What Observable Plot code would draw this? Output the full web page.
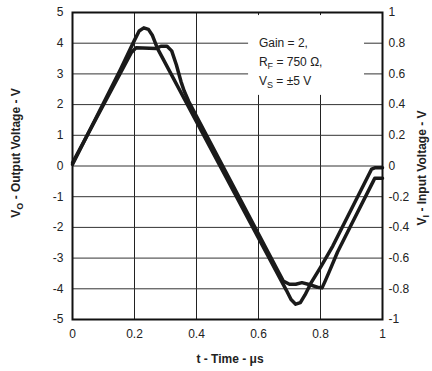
<!DOCTYPE html>
<html>
<head>
<meta charset="utf-8">
<script src="https://cdn.jsdelivr.net/npm/d3@7"></script>
<script src="https://cdn.jsdelivr.net/npm/@observablehq/plot@0.6"></script>
<style>
  html, body { margin: 0; padding: 0; background: #fff; }
  svg text { font-family: "Liberation Sans", Arial, Helvetica, sans-serif; }
</style>
</head>
<body>
<div id="chart"></div>
<script>
// ---- data ----
const xTicks = [0, 0.2, 0.4, 0.6, 0.8, 1];
const xTickLabels = ["0", "0.2", "0.4", "0.6", "0.8", "1"];
const leftTicks = [-5, -4, -3, -2, -1, 0, 1, 2, 3, 4, 5];
const leftTickLabels = ["-5", "-4", "-3", "-2", "-1", "0", "1", "2", "3", "4", "5"];
const rightTickLabels = ["-1", "-0.8", "-0.6", "-0.4", "-0.2", "0", "0.2", "0.4", "0.6", "0.8", "1"];

// Output voltage trace (V), time in µs
const outT = [0, 0.155, 0.2, 0.215, 0.23, 0.245, 0.258, 0.274, 0.476, 0.69, 0.705, 0.72, 0.735, 0.75, 0.77, 0.8, 0.84, 0.965, 0.975, 1.0];
const outV = [0.05, 3.15, 4.1, 4.4, 4.5, 4.45, 4.25, 3.83, 0, -4.05, -4.35, -4.5, -4.45, -4.2, -3.8, -3.3, -2.6, -0.1, -0.06, -0.06];

// Input voltage trace, plotted on the output scale (right axis = left / 5)
const inT = [0, 0.19, 0.205, 0.27, 0.285, 0.305, 0.32, 0.335, 0.35, 0.36, 0.375, 0.68, 0.70, 0.72, 0.74, 0.76, 0.79, 0.805, 0.815, 0.83, 0.855, 0.90, 0.97, 0.975, 1.0];
const inV = [0.1, 3.7, 3.85, 3.83, 3.9, 3.9, 3.75, 3.3, 2.75, 2.45, 2.1, -3.75, -3.85, -3.85, -3.8, -3.85, -3.95, -3.97, -3.75, -3.4, -2.8, -1.9, -0.5, -0.4, -0.4];

// legend annotation (data units)
const legendBox = [{x1: 0.568, x2: 0.942, y1: 2.3, y2: 4.9}];
const legendX = 0.603;
const legendY = [3.86, 3.24, 2.62];

// ---- build tables ----
const outData = outT.map((t, i) => ({t, v: outV[i]}));
const inData = inT.map((t, i) => ({t, v: inV[i]}));
const xLabelMap = new Map(xTicks.map((d, i) => [d, xTickLabels[i]]));
const leftLabelMap = new Map(leftTicks.map((d, i) => [d, leftTickLabels[i]]));
const rightLabelMap = new Map(leftTicks.map((d, i) => [d, rightTickLabels[i]]));

const ink = "#1a1a1a";
const chart = Plot.plot({
  width: 432,
  height: 371,
  marginLeft: 72,
  marginRight: 50,
  marginTop: 12,
  marginBottom: 52,
  style: {fontFamily: "'Liberation Sans', Arial, sans-serif", fontSize: "12px", color: "#222", background: "#fff"},
  x: {domain: [0, 1]},
  y: {domain: [-5, 5]},
  marks: [
    Plot.gridX(xTicks, {stroke: "#222", strokeOpacity: 1, strokeWidth: 1}),
    Plot.gridY(leftTicks, {stroke: "#333", strokeOpacity: 1, strokeWidth: 1}),
    Plot.rect(legendBox, {x1: "x1", x2: "x2", y1: "y1", y2: "y2", fill: "white"}),
    Plot.line(outData, {x: "t", y: "v", stroke: ink, strokeWidth: 3.5, strokeLinejoin: "round"}),
    Plot.line(inData, {x: "t", y: "v", stroke: ink, strokeWidth: 3.5, strokeLinejoin: "round"}),
    Plot.frame({stroke: "#111", strokeWidth: 2}),
    Plot.axisX(xTicks, {tickSize: 0, tickPadding: 10, tickFormat: d => xLabelMap.get(d), label: null}),
    Plot.axisY(leftTicks, {anchor: "left", tickSize: 0, tickPadding: 9, tickFormat: d => leftLabelMap.get(d), label: null}),
    Plot.axisY(leftTicks, {anchor: "right", tickSize: 0, tickPadding: 6, tickFormat: d => rightLabelMap.get(d), label: null})
  ]
});
document.getElementById("chart").appendChild(chart);

// ---- text annotations with subscripts ----
const svg = d3.select(chart);
const sx = chart.scale("x"), sy = chart.scale("y");

function richText(g, parts, size) {
  parts.forEach(p => {
    const ts = g.append("tspan").text(p.t);
    if (p.sub) ts.attr("dy", 3).attr("font-size", size * 0.75);
    if (p.up) ts.attr("dy", -3);
  });
}

const legendLines = [
  [{t: "Gain = 2,"}],
  [{t: "R"}, {t: "F", sub: true}, {t: " = 750 Ω,", up: true}],
  [{t: "V"}, {t: "S", sub: true}, {t: " = ±5 V", up: true}]
];
legendLines.forEach((parts, i) => {
  const t = svg.append("text")
    .attr("x", sx.apply(legendX)).attr("y", sy.apply(legendY[i]))
    .attr("text-anchor", "start")
    .attr("font-size", 12).attr("fill", "#222");
  richText(t, parts, 12);
});

// x axis title
svg.append("text")
  .attr("x", 230).attr("y", 363)
  .attr("text-anchor", "middle").attr("font-size", 12).attr("font-weight", "bold").attr("fill", "#222")
  .text("t - Time - μs");

// left axis title
const lt = svg.append("text")
  .attr("transform", "translate(20,153) rotate(-90)")
  .attr("text-anchor", "middle").attr("font-size", 12).attr("font-weight", "bold").attr("fill", "#222");
richText(lt, [{t: "V"}, {t: "O", sub: true}, {t: " - Output Voltage - V", up: true}], 12);

// right axis title
const rt = svg.append("text")
  .attr("transform", "translate(426,168) rotate(-90)")
  .attr("text-anchor", "middle").attr("font-size", 12).attr("font-weight", "bold").attr("fill", "#222");
richText(rt, [{t: "V"}, {t: "I", sub: true}, {t: " - Input Voltage - V", up: true}], 12);
</script>
</body>
</html>
